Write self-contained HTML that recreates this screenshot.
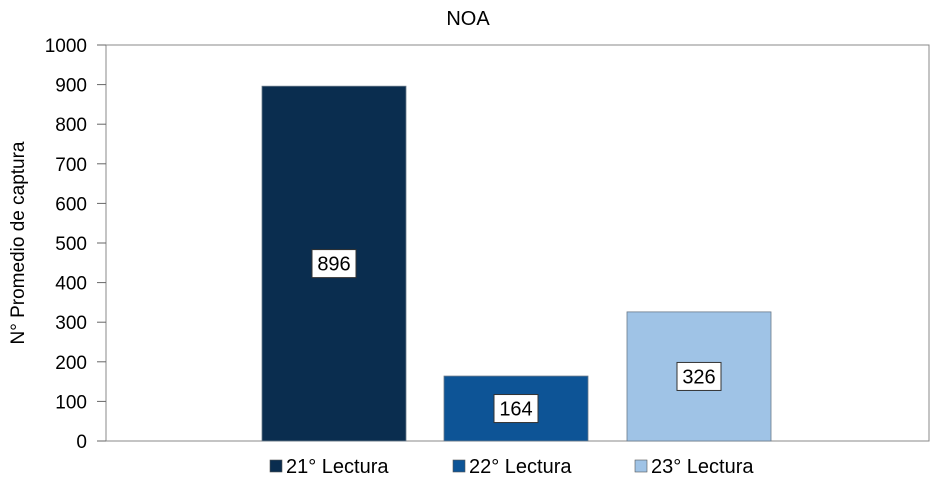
<!DOCTYPE html>
<html><head><meta charset="utf-8"><style>
body{margin:0;background:#fff;}
svg{display:block;font-family:"Liberation Sans",Arial,sans-serif;}
</style></head><body>
<svg id="chart" width="936" height="478">
<text x="468" y="25" font-size="20" text-anchor="middle">NOA</text>
<text transform="translate(24,243) rotate(-90)" font-size="19" text-anchor="middle">N° Promedio de captura</text>
<g id="grid"></g><g id="bars"></g><g id="legend"></g>
</svg>
<script>
const categories=["21° Lectura","22° Lectura","23° Lectura"];
const values=[896,164,326];
const colors=["#0a2d4f","#0d5496","#9fc3e6"];
const ticks=[0,100,200,300,400,500,600,700,800,900,1000];
const NS="http://www.w3.org/2000/svg";
const X0=106,X1=929,Y0=441,Y1=45,MAX=1000;
const y=v=>Y0-(v/MAX)*(Y0-Y1);
const barLeft=[262,444,627],bw=144;
function mk(t,a,p){const e=document.createElementNS(NS,t);for(const k in a)e.setAttribute(k,a[k]);p.appendChild(e);return e;}
const g=document.getElementById('grid');
let fr=mk('rect',{x:X0,y:Y1,width:X1-X0,height:Y0-Y1,fill:'none',stroke:'#888','stroke-width':1},g);


ticks.forEach(t=>{
 let l=mk('line',{x1:97,x2:X0,y1:y(t),y2:y(t),stroke:'#666'},g);
 
 
 let tx=mk('text',{x:87,y:y(t)+7,'font-size':19,'text-anchor':'end'},g);tx.textContent=t;
 
 
});
const b=document.getElementById('bars');
values.forEach((v,i)=>{
 const x=barLeft[i];
 let r=mk('rect',{x:x,y:y(v),width:bw,height:Y0-y(v),fill:colors[i],stroke:'#6a7a8a','stroke-width':0.8},b);
 
 
 const cy=(y(v)+Y0)/2;
 let lb=mk('rect',{x:x+bw/2-22,y:cy-14,width:44,height:28,fill:'#fff',stroke:'#333','stroke-width':1},b);
 
 
 let t=mk('text',{x:x+bw/2,y:cy+7,'font-size':20,'text-anchor':'middle'},b);t.textContent=v;
 
 
});
const lg=document.getElementById('legend');
const lx=[270,453,635];
categories.forEach((c,i)=>{
 let s=mk('rect',{x:lx[i],y:460,width:12,height:12,fill:colors[i],stroke:'#555','stroke-width':0.6},lg);
 
 
 let t=mk('text',{x:lx[i]+16,y:473,'font-size':20},lg);t.textContent=c;
 
 
});
</script>
</body></html>
